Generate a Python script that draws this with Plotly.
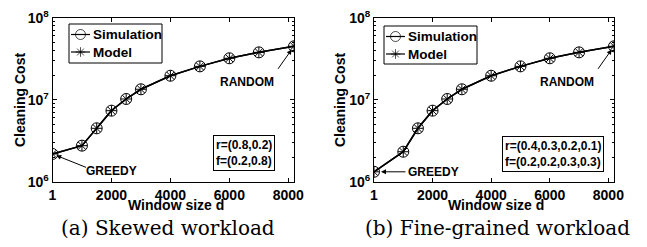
import math
import plotly.graph_objects as go

# ---------------- data ----------------
window_sizes = [1, 1000, 1500, 2000, 2500, 3000, 4000, 5000, 6000, 7000, 8192]

skewed_sim = [2.18e6, 2.75e6, 4.48e6, 7.35e6, 1.02e7, 1.34e7, 1.96e7, 2.55e7, 3.2e7, 3.78e7, 4.48e7]
skewed_model = [2.18e6, 2.75e6, 4.48e6, 7.35e6, 1.02e7, 1.34e7, 1.96e7, 2.55e7, 3.2e7, 3.78e7, 4.48e7]

fine_sim = [1.32e6, 2.32e6, 4.48e6, 7.35e6, 1.02e7, 1.34e7, 1.96e7, 2.55e7, 3.2e7, 3.78e7, 4.48e7]
fine_model = [1.32e6, 2.32e6, 4.48e6, 7.35e6, 1.02e7, 1.34e7, 1.96e7, 2.55e7, 3.2e7, 3.78e7, 4.48e7]

x_tickvals = [1, 2000, 4000, 6000, 8000]
x_ticktext = ["1", "2000", "4000", "6000", "8000"]
y_tickvals = [1e6, 1e7, 1e8]
y_ticktext = ["10<sup>6</sup>", "10<sup>7</sup>", "10<sup>8</sup>"]
y_minor = [m * 10 ** e for e in (6, 7) for m in range(2, 10)]

series_names = ["Simulation", "Model"]
x_title = "Window size d"
y_title = "Cleaning Cost"
panel_params = ["r=(0.8,0.2)<br>f=(0.2,0.8)", "r=(0.4,0.3,0.2,0.1)<br>f=(0.2,0.2,0.3,0.3)"]
captions = ["(a) Skewed workload", "(b) Fine-grained workload"]

# ---------------- figure ----------------
OFF = 8                      # page body margin
W, H = 647 - OFF, 247 - OFF
SANS = "Liberation Sans"
BOLD = dict(family=SANS, weight="bold", color="black")
SYMBOLS = ["circle-open", "asterisk-open"]
SIZES = [11, 9]


def dom_x(a, b):
    return [(a - OFF) / W, (b - OFF) / W]


fig = go.Figure()

panels = [
    dict(sim=skewed_sim, model=skewed_model, xa="x", ya="y",
         xdom=dom_x(52.5, 294), greedy=dict(ax=35, ay=14, xs=59, ys=-17, st=4),
         box=(244, 152.5), cap=168, xt=176, yt=20,
         leg=dict(x0=69, x1=162, y0=24, y1=63, rows=[34.5, 52])),
    dict(sim=fine_sim, model=fine_model, xa="x2", ya="y2",
         xdom=dom_x(374, 614), greedy=dict(ax=33, ay=0, xs=59, ys=0, st=7),
         box=(553, 154), cap=497, xt=496, yt=340,
         leg=dict(x0=384, x1=477, y0=26, y1=64, rows=[36.5, 54])),
]
ydom = [(OFF + H - 181.7) / H, (OFF + H - 17.7) / H]

for i, p in enumerate(panels):
    for k, ys in enumerate([p["sim"], p["model"]]):
        fig.add_trace(go.Scatter(
            x=window_sizes, y=ys, mode="lines+markers", name=series_names[k],
            line=dict(color="black", width=1.5),
            marker=dict(symbol=SYMBOLS[k], size=SIZES[k], color="black",
                        line=dict(width=1, color="black")),
            xaxis=p["xa"], yaxis=p["ya"], showlegend=False))

# legend symbols on a pixel-space overlay axis
for i, p in enumerate(panels):
    L = p["leg"]
    for k in range(2):
        yy = L["rows"][k]
        fig.add_trace(go.Scatter(
            x=[L["x0"] + 2, L["x0"] + 11.5, L["x0"] + 21], y=[yy, yy, yy],
            mode="lines+markers", line=dict(color="black", width=1.2),
            marker=dict(symbol=SYMBOLS[k], size=[0, SIZES[k] - 1, 0], color="black",
                        line=dict(width=1, color="black")),
            xaxis="x3", yaxis="y3", showlegend=False, hoverinfo="skip"))

axis_common = dict(showline=True, linecolor="black", linewidth=1, mirror="ticks",
                   ticks="inside", ticklen=4, tickcolor="black", showgrid=False,
                   zeroline=False, automargin=False, ticklabeloverflow="allow",
                   tickfont=dict(size=14, **BOLD))

layout = dict(width=W, height=H, margin=dict(l=0, r=0, t=0, b=0),
              plot_bgcolor="rgba(0,0,0,0)", paper_bgcolor="white", showlegend=False)

for i, p in enumerate(panels):
    sx = "" if i == 0 else str(i + 1)
    layout["xaxis" + sx] = dict(
        axis_common, domain=p["xdom"], range=[1, 8192], tickvals=x_tickvals, ticktext=x_ticktext,
        anchor="y" + sx)
    layout["yaxis" + sx] = dict(
        axis_common, domain=ydom, type="log", range=[6, 8], tickvals=y_tickvals,
        ticktext=y_ticktext, anchor="x" + sx,
        minor=dict(tickvals=y_minor, ticks="inside", ticklen=2, tickcolor="black"))

# pixel-space overlay axes expressed in the reference picture's coordinates
layout["xaxis3"] = dict(domain=[0, 1], range=[OFF, OFF + W], visible=False, anchor="y3", fixedrange=True)
layout["yaxis3"] = dict(domain=[0, 1], range=[OFF + H, OFF], visible=False, anchor="x3", fixedrange=True)

fig.update_layout(**layout)

shapes = []
annotations = []
for i, p in enumerate(panels):
    sx = "" if i == 0 else str(i + 1)
    xr, yr = "x" + sx, "y" + sx
    sims = p["sim"]
    g = p["greedy"]
    L = p["leg"]
    # axis titles
    annotations.append(dict(x=p["xt"], y=205, xref="x3", yref="y3", text=x_title,
                            showarrow=False, xanchor="center", yanchor="middle",
                            font=dict(size=14, **BOLD)))
    annotations.append(dict(x=p["yt"], y=100, xref="x3", yref="y3", text=y_title,
                            showarrow=False, xanchor="center", yanchor="middle", textangle=-90,
                            font=dict(size=14, **BOLD)))
    # legend box + labels
    shapes.append(dict(type="rect", xref="x3", yref="y3", x0=L["x0"], x1=L["x1"],
                       y0=L["y0"], y1=L["y1"], line=dict(color="black", width=1),
                       fillcolor="rgba(0,0,0,0)", layer="above"))
    for k in range(2):
        annotations.append(dict(x=L["x0"] + 22, y=L["rows"][k], xref="x3", yref="y3",
                                text=series_names[k], showarrow=False, xanchor="left",
                                yanchor="middle", font=dict(size=13.5, **BOLD)))
    # GREEDY arrow + text
    annotations.append(dict(x=window_sizes[0], y=math.log10(sims[0]),
                            xref=xr, yref=yr, text="", showarrow=True, ax=g["ax"], ay=g["ay"],
                            arrowhead=2, arrowsize=1, arrowwidth=1, arrowcolor="black", standoff=g["st"]))
    annotations.append(dict(x=window_sizes[0], y=math.log10(sims[0]),
                            xref=xr, yref=yr, text="GREEDY", showarrow=False,
                            xshift=g["xs"], yshift=g["ys"], font=dict(size=12, **BOLD)))
    # RANDOM arrow + text
    annotations.append(dict(x=window_sizes[-1], y=math.log10(sims[-1]),
                            xref=xr, yref=yr, text="", showarrow=True, ax=-17, ay=24,
                            arrowhead=2, arrowsize=1, arrowwidth=1, arrowcolor="black", standoff=4))
    annotations.append(dict(x=window_sizes[-1], y=math.log10(sims[-1]),
                            xref=xr, yref=yr, text="RANDOM", showarrow=False,
                            xshift=-47, yshift=-36, font=dict(size=12, **BOLD)))
    # parameter box
    annotations.append(dict(x=p["box"][0], y=p["box"][1], xref="x3", yref="y3",
                            xanchor="center", yanchor="middle",
                            text=panel_params[i], showarrow=False, align="left",
                            bordercolor="black", borderwidth=1, borderpad=2, bgcolor="white",
                            font=dict(size=12, **BOLD)))
    # caption
    annotations.append(dict(x=p["cap"], y=228, xref="x3", yref="y3",
                            xanchor="center", yanchor="middle",
                            text=captions[i], showarrow=False,
                            font=dict(family="DejaVu Serif", size=20, color="black")))

fig.update_layout(shapes=shapes, annotations=annotations)
fig.write_html("out.html")
